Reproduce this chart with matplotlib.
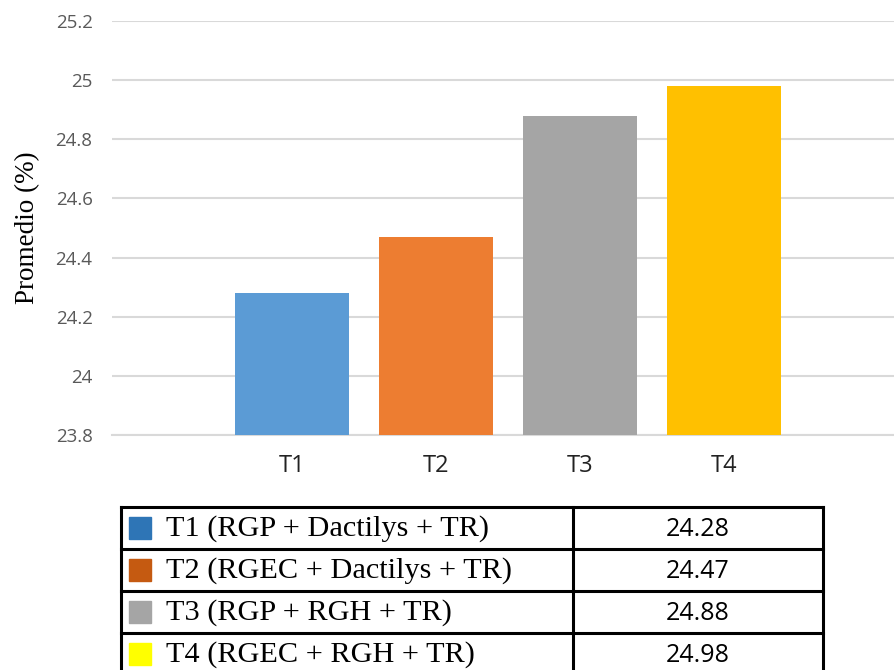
import matplotlib.pyplot as plt
import numpy as np

# data
categories = ["T1", "T2", "T3", "T4"]
values = [24.28, 24.47, 24.88, 24.98]
table_labels = ["T1 (RGP + Dactilys + TR)", "T2 (RGEC + Dactilys + TR)",
                "T3 (RGP + RGH + TR)", "T4 (RGEC + RGH + TR)"]
bar_colors = ["#5B9BD5", "#ED7D31", "#A5A5A5", "#FFC000"]
key_colors = ["#2E75B6", "#C55A11", "#A5A5A5", "#FFFF00"]
yticks = [23.8, 24, 24.2, 24.4, 24.6, 24.8, 25, 25.2]
ytick_labels = ["23.8", "24", "24.2", "24.4", "24.6", "24.8", "25", "25.2"]

W, H = 894, 670
fig = plt.figure(figsize=(W / 100, H / 100), dpi=100)

# bar chart, placed in pixel terms
ax = fig.add_axes([112 / W, 1 - 435 / H, 1 - 112 / W, (435 - 21) / H])
x = np.arange(len(categories))
ax.bar(x, values, width=0.79, color=bar_colors, zorder=3)
ax.set_xlim(-1.25, 4.18)
ax.set_ylim(23.8, 25.2)
ax.set_yticks(yticks)
ax.set_yticklabels(ytick_labels)
ax.set_xticks(x)
ax.set_xticklabels(categories)
ax.yaxis.grid(True, color="#D9D9D9", lw=1.5, zorder=0)
for s in ["top", "right", "left"]:
    ax.spines[s].set_visible(False)
ax.spines["bottom"].set_color("#D9D9D9")
ax.spines["bottom"].set_linewidth(1.5)
ax.tick_params(axis="both", length=0)
ax.tick_params(axis="y", pad=14, labelcolor="#595959", labelsize=13.5)
ax.tick_params(axis="x", pad=14, labelcolor="#222222", labelsize=17)
for t in ax.get_xticklabels() + ax.get_yticklabels():
    t.set_fontfamily("Open Sans")
ax.set_ylabel("Promedio (%)", fontfamily="Liberation Serif", fontsize=19.5)
ax.yaxis.set_label_coords(-(112 - 40) / (W - 112), 0.5)

# table below the chart, in pixel coordinates
tx = fig.add_axes([0, 0, 1, 1])
tx.set_xlim(0, W)
tx.set_ylim(H, 0)
tx.axis("off")
left, mid, right = 121, 573, 823
top, row_h = 507, 42
n = len(table_labels)
for i in range(n + 1):
    yy = top + i * row_h
    tx.plot([left, right], [yy, yy], color="black", lw=2.2, clip_on=False)
bottom = top + n * row_h
for xx in [left, mid, right]:
    tx.plot([xx, xx], [top, bottom], color="black", lw=2.2, clip_on=False)
for i, (lab, val, c) in enumerate(zip(table_labels, values, key_colors)):
    yc = top + (i + 0.5) * row_h
    tx.add_patch(plt.Rectangle((129, yc - 11), 22, 22, color=c))
    tx.text(166, yc + 1, lab, fontfamily="Liberation Serif", fontsize=21.8,
            ha="left", va="center")
    tx.text((mid + right) / 2, yc + 1, f"{val:.2f}", fontfamily="Open Sans",
            fontsize=18, ha="center", va="center")

fig.savefig("out.png", dpi=100)
